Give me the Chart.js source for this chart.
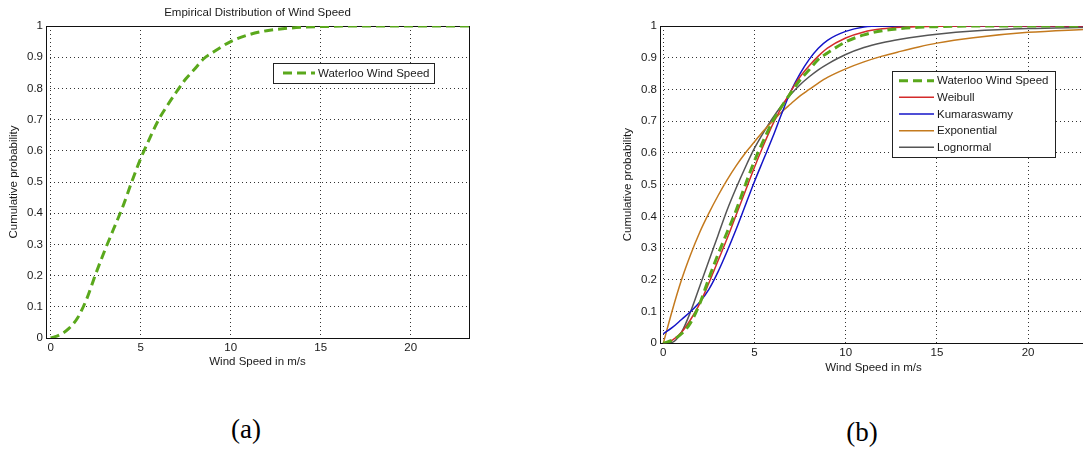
<!DOCTYPE html>
<html>
<head>
<meta charset="utf-8">
<script src="https://cdn.jsdelivr.net/npm/chart.js@4.4.1/dist/chart.umd.min.js"></script>
<style>
html, body { margin: 0; padding: 0; background: #fff; overflow: hidden; width: 1083px; height: 451px; }
#chartA { position: absolute; left: 0; top: 0; }
#chartB { position: absolute; left: 614px; top: 0; }
.cap { position: absolute; width: 100px; text-align: center; font-family: "Liberation Serif", "Times New Roman", serif; font-size: 27px; line-height: 27px; color: #000; }
</style>
</head>
<body>
<canvas id="chartA" width="515" height="380"></canvas>
<canvas id="chartB" width="486" height="386"></canvas>
<div class="cap" style="left:196px;top:416px">(a)</div>
<div class="cap" style="left:812px;top:419px">(b)</div>
<script>
// wind speed grid (m/s) shared by every curve
const windSpeed = [0, 0.5, 1, 1.5, 2, 2.5, 3, 3.5, 4, 4.5, 5, 5.5, 6, 6.5, 7, 7.5, 8, 8.5, 9, 10, 11, 12, 13, 14, 15, 17, 20, 23.3];

// cumulative probabilities
const ecdfWaterloo   = [0, 0.01, 0.03, 0.065, 0.125, 0.205, 0.28, 0.35, 0.42, 0.50, 0.575, 0.64, 0.70, 0.747, 0.79, 0.83, 0.862, 0.895, 0.915, 0.95, 0.972, 0.985, 0.992, 0.996, 0.998, 1, 1, 1];
const cdfWeibull     = [0, 0.01, 0.035, 0.075, 0.125, 0.19, 0.26, 0.33, 0.405, 0.48, 0.555, 0.625, 0.69, 0.745, 0.795, 0.84, 0.875, 0.905, 0.93, 0.962, 0.981, 0.991, 0.996, 0.998, 0.999, 1, 1, 1];
const cdfKumaraswamy = [0.03, 0.05, 0.075, 0.1, 0.13, 0.17, 0.225, 0.29, 0.36, 0.435, 0.51, 0.58, 0.65, 0.725, 0.795, 0.85, 0.895, 0.93, 0.955, 0.983, 0.997, 1, 1, 1, 1, 1, 1, 1];
const cdfExponential = [0, 0.105, 0.2, 0.28, 0.35, 0.41, 0.465, 0.515, 0.56, 0.60, 0.635, 0.67, 0.70, 0.73, 0.755, 0.78, 0.80, 0.82, 0.838, 0.865, 0.887, 0.905, 0.92, 0.934, 0.946, 0.963, 0.98, 0.99];
const cdfLognormal   = [0, 0.003, 0.035, 0.1, 0.18, 0.26, 0.34, 0.42, 0.49, 0.555, 0.615, 0.665, 0.71, 0.75, 0.785, 0.815, 0.84, 0.862, 0.88, 0.91, 0.932, 0.947, 0.958, 0.967, 0.974, 0.984, 0.992, 0.996];

const xTicks = [0, 5, 10, 15, 20];
const yTicks = [0, 0.1, 0.2, 0.3, 0.4, 0.5, 0.6, 0.7, 0.8, 0.9, 1];

const FONT = { family: '"Liberation Sans", Arial, Helvetica, sans-serif', size: 11.5 };
const TXT = '#1a1a1a';

function pts(ys) {
    return windSpeed.map((x, i) => ({ x: x, y: ys[i] }));
}

// MATLAB style box round the axes
const boxPlugin = {
    id: 'box',
    beforeDatasetsDraw(chart) {
        const a = chart.chartArea, ctx = chart.ctx;
        ctx.save();
        ctx.strokeStyle = '#111';
        ctx.lineWidth = 1;
        ctx.setLineDash([]);
        ctx.strokeRect(Math.round(a.left) + 0.5, Math.round(a.top) + 0.5,
            Math.round(a.right - a.left), Math.round(a.bottom - a.top));
        ctx.restore();
    }
};

// legend box sitting inside the axes
const boxLegend = {
    id: 'boxLegend',
    afterDatasetsDraw(chart, args, o) {
        const ctx = chart.ctx;
        ctx.save();
        ctx.fillStyle = '#fff';
        ctx.fillRect(o.left, o.top, o.width, o.height);
        ctx.strokeStyle = '#222';
        ctx.lineWidth = 1;
        ctx.strokeRect(o.left + 0.5, o.top + 0.5, o.width, o.height);
        ctx.font = FONT.size + 'px ' + FONT.family;
        ctx.textBaseline = 'middle';
        chart.data.datasets.forEach((ds, i) => {
            const y = o.firstRow + i * o.rowHeight;
            ctx.beginPath();
            ctx.setLineDash(ds.borderDash || []);
            ctx.strokeStyle = ds.borderColor;
            ctx.lineWidth = ds.borderWidth;
            ctx.moveTo(o.sampleLeft, y);
            ctx.lineTo(o.sampleLeft + o.sampleWidth, y);
            ctx.stroke();
            ctx.setLineDash([]);
            ctx.fillStyle = TXT;
            ctx.fillText(ds.label, o.sampleLeft + o.sampleWidth + 3, y + 0.5);
        });
        ctx.restore();
    }
};

function makeScales(xMin, xMax, xAxisH) {
    return {
        x: {
            type: 'linear', min: xMin, max: xMax,
            afterBuildTicks: s => { s.ticks = xTicks.map(v => ({ value: v })); },
            afterFit: s => { s.height = xAxisH; },
            grid: { color: 'rgba(0,0,0,0.8)', lineWidth: 1, drawTicks: false },
            border: { display: false, dash: [1, 3] },
            ticks: { color: TXT, font: FONT, padding: 3, maxRotation: 0, autoSkip: false },
            title: { display: true, text: 'Wind Speed in m/s', color: TXT, font: FONT, padding: { top: 0, bottom: 11 } }
        },
        y: {
            type: 'linear', min: 0, max: 1,
            afterBuildTicks: s => { s.ticks = yTicks.map(v => ({ value: v })); },
            afterFit: s => { s.width = 46; },
            grid: { color: 'rgba(0,0,0,0.8)', lineWidth: 1, drawTicks: false },
            border: { display: false, dash: [1, 3] },
            ticks: { color: TXT, font: FONT, padding: 3, autoSkip: false, callback: v => String(+v.toFixed(1)) },
            title: { display: true, text: 'Cumulative probability', color: TXT, font: FONT, padding: { top: 7, bottom: 0 } }
        }
    };
}

const line = (label, ys, color, width, dash) => ({
    label: label,
    data: pts(ys),
    borderColor: color,
    backgroundColor: color,
    borderWidth: width,
    borderDash: dash || [],
    pointRadius: 0,
    fill: false,
    cubicInterpolationMode: 'monotone'
});

const GREEN = '#5aa81c';

// (a) empirical distribution
new Chart(document.getElementById('chartA'), {
    type: 'line',
    data: { datasets: [line('Waterloo Wind Speed', ecdfWaterloo, GREEN, 3, [9, 5])] },
    options: {
        responsive: false, animation: false, devicePixelRatio: 1,
        layout: { padding: { top: 0, right: 46, bottom: 0, left: 0 } },
        scales: makeScales(-0.26, 23.24, 42),
        plugins: {
            legend: { display: false },
            tooltip: { enabled: false },
            title: {
                display: true, fullSize: false, text: 'Empirical Distribution of Wind Speed',
                color: TXT, font: Object.assign({}, FONT, { weight: 'normal' }), padding: { top: 5.5, bottom: 6.7 }
            },
            boxLegend: { left: 273, top: 63, width: 161, height: 20, firstRow: 73, rowHeight: 16.6, sampleLeft: 283, sampleWidth: 32 }
        }
    },
    plugins: [boxPlugin, boxLegend]
});

// (b) fitted distributions
new Chart(document.getElementById('chartB'), {
    type: 'line',
    data: {
        datasets: [
            line('Waterloo Wind Speed', ecdfWaterloo, GREEN, 3, [9, 5]),
            line('Weibull', cdfWeibull, '#d42a2a', 1.5),
            line('Kumaraswamy', cdfKumaraswamy, '#1515c8', 1.5),
            line('Exponential', cdfExponential, '#c47a1e', 1.5),
            line('Lognormal', cdfLognormal, '#555555', 1.5)
        ]
    },
    options: {
        responsive: false, animation: false, devicePixelRatio: 1,
        layout: { padding: { top: 26, right: 13, bottom: 0, left: 0 } },
        scales: makeScales(-0.18, 23.23, 42.7),
        plugins: {
            legend: { display: false },
            tooltip: { enabled: false },
            title: { display: false },
            boxLegend: { left: 278, top: 71, width: 163, height: 86, firstRow: 80.7, rowHeight: 16.65, sampleLeft: 285, sampleWidth: 35 }
        }
    },
    plugins: [boxPlugin, boxLegend]
});
</script>
</body>
</html>
